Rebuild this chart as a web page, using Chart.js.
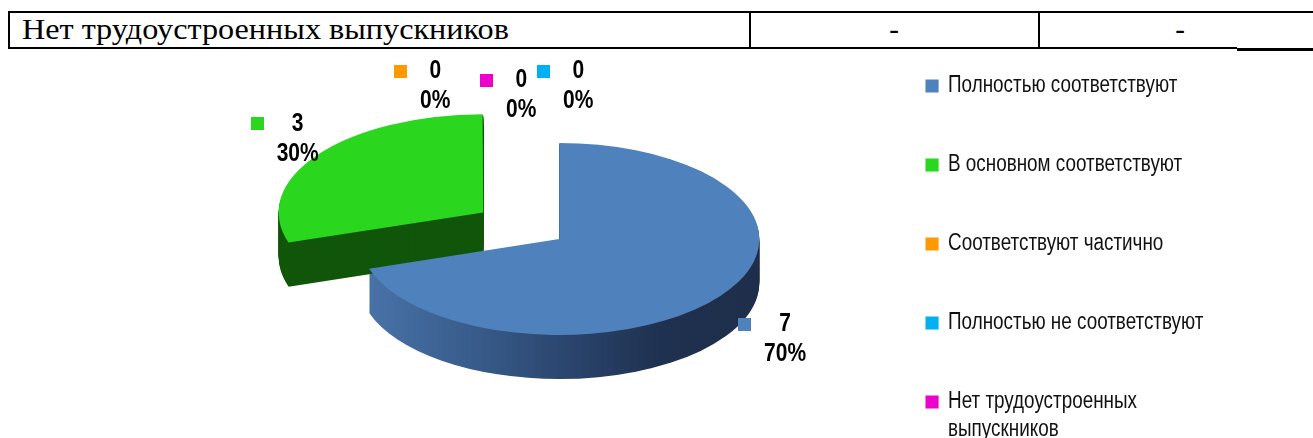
<!DOCTYPE html>
<html>
<head>
<meta charset="utf-8">
<script src="https://cdn.jsdelivr.net/npm/chart.js@4.4.0/dist/chart.umd.min.js"></script>
<style>
  html, body { margin: 0; padding: 0; background: #fff; width: 1313px; height: 438px; overflow: hidden; position: relative; }
  .ln { position: absolute; background: #000; }
  .cell { position: absolute; font-family: "Liberation Serif", "Times New Roman", serif; font-size: 29px; line-height: 29px; color: #000; white-space: nowrap; }
  #pie { position: absolute; left: 0; top: 0; }
</style>
</head>
<body>
<!-- table row above the chart -->
<div class="ln" style="left:8px;top:11px;width:1305px;height:2px"></div>
<div class="ln" style="left:8px;top:47px;width:1229px;height:2px"></div>
<div class="ln" style="left:1237px;top:48px;width:76px;height:3px"></div>
<div class="ln" style="left:8px;top:11px;width:2px;height:38px"></div>
<div class="ln" style="left:749px;top:11px;width:2px;height:38px"></div>
<div class="ln" style="left:1038px;top:11px;width:2px;height:38px"></div>
<div class="cell" style="left:22px;top:15px;transform:scaleX(1.11);transform-origin:0 0">Нет трудоустроенных выпускников</div>
<div class="cell" style="left:884px;top:15px;width:20px;text-align:center">-</div>
<div class="cell" style="left:1170px;top:15px;width:20px;text-align:center">-</div>

<canvas id="pie" width="1313" height="520"></canvas>

<script>
const categories = [
  'Полностью соответствуют',
  'В основном соответствуют',
  'Соответствуют частично',
  'Полностью не соответствуют',
  ['Нет трудоустроенных', 'выпускников']
];
const counts = [7, 3, 0, 0, 0];
const colors = ['#4f81bd', '#2bd61e', '#ff9900', '#00b0f0', '#ee00cc'];

const total = counts.reduce((a, b) => a + b, 0);
const percents = counts.map(v => Math.round(v / total * 100) + '%');

const sans = "'Liberation Sans', Arial, sans-serif";

// the original uses a narrow font, so legend text is squeezed horizontally
const narrowLegend = {
  id: 'narrowLegend',
  beforeDraw(chart, args, opts) {
    const ctx = chart.ctx;
    const left = chart.legend.left;
    ctx.save();
    ctx.translate(left, 0);
    ctx.scale(opts.sx, 1);
    ctx.translate(-left, 0);
  },
  beforeDatasetsDraw(chart) {
    chart.ctx.restore();
  }
};

// fake 3d: squash the pie vertically and stack darker copies under it
const pie3d = {
  id: 'pie3d',
  beforeDatasetsDraw(chart, args, opts) {
    const ctx = chart.ctx;
    const arcs = chart.getDatasetMeta(0).data;
    const cx = arcs[0].x, cy = arcs[0].y;
    ctx.save();
    ctx.translate(cx, cy);
    ctx.scale(1, opts.tilt);
    ctx.translate(-cx, -cy);
    arcs.forEach((arc, i) => {
      const g = arcGeom(arc);
      if (g.empty) return;
      let fill = opts.side[i];
      if (Array.isArray(fill)) {
        const grad = ctx.createLinearGradient(g.x - g.r, 0, g.x + g.r, 0);
        fill.forEach((c, k) => grad.addColorStop(k / (fill.length - 1), c));
        fill = grad;
      }
      ctx.fillStyle = fill;
      for (let k = opts.depth; k >= 1; k--) {
        const y = g.y + k / opts.tilt;
        ctx.beginPath();
        ctx.moveTo(g.x, y);
        ctx.arc(g.x, y, g.r, g.start, g.end);
        ctx.closePath();
        ctx.fill();
      }
    });
  },
  afterDatasetsDraw(chart) {
    chart.ctx.restore();
  }
};

// same geometry ArcElement.draw uses (offset / 4 shift, small radius fix)
function arcGeom(arc) {
  const p = arc.getProps(['x', 'y', 'startAngle', 'endAngle', 'outerRadius', 'circumference']);
  const off = (arc.options.offset || 0) / 4;
  const mid = (p.startAngle + p.endAngle) / 2;
  const fix = 1 - Math.sin(Math.min(Math.PI, p.circumference || 0));
  return {
    x: p.x + Math.cos(mid) * off,
    y: p.y + Math.sin(mid) * off,
    r: p.outerRadius + off * fix,
    start: p.startAngle,
    end: p.endAngle,
    mid: mid,
    empty: p.circumference === 0
  };
}

const pieLabels = {
  id: 'pieLabels',
  afterDatasetsDraw(chart, args, opts) {
    const ctx = chart.ctx;
    const arcs = chart.getDatasetMeta(0).data;
    const tilt = chart.options.plugins.pie3d.tilt;
    const cy = arcs[0].y;
    ctx.save();
    ctx.font = 'bold 25px ' + sans;
    ctx.textAlign = 'center';
    ctx.textBaseline = 'middle';
    arcs.forEach((arc, i) => {
      const g = arcGeom(arc);
      const ax = g.x + Math.cos(g.mid) * g.r + opts.nudge[i][0];
      const ay = cy + (g.y - cy + Math.sin(g.mid) * g.r) * tilt + opts.nudge[i][1];
      const lines = [String(counts[i]), percents[i]];
      const w = Math.max(...lines.map(t => ctx.measureText(t).width)) * opts.sx;
      ctx.fillStyle = colors[i];
      ctx.fillRect(Math.round(ax - w / 2 - 13 - 13), Math.round(ay - 6.5), 13, 13);
      ctx.fillStyle = '#000';
      lines.forEach((t, k) => {
        ctx.save();
        ctx.translate(ax, ay + k * 30);
        ctx.scale(opts.sx, 1);
        ctx.fillText(t, 0, 0);
        ctx.restore();
      });
    });
    ctx.restore();
  }
};

new Chart(document.getElementById('pie'), {
  type: 'pie',
  data: {
    labels: categories,
    datasets: [{
      data: counts,
      backgroundColor: colors,
      borderWidth: 0,
      offset: [0, 376, 0, 0, 0]
    }]
  },
  options: {
    responsive: false,
    animation: false,
    events: [],
    radius: 200,
    layout: { padding: { left: 239, right: 28.5, top: 18.5, bottom: 0 } },
    plugins: {
      legend: {
        position: 'right',
        align: 'start',
        labels: {
          boxWidth: 16,
          boxHeight: 13,
          padding: 56,
          color: '#111',
          font: { family: sans, size: 23, lineHeight: 1.217 }
        }
      },
      title: {
        display: true,
        position: 'bottom',
        fullSize: false,
        text: '',
        padding: { top: 0, bottom: 50.5 },
        font: { size: 10, lineHeight: 1 }
      },
      tooltip: { enabled: false },
      narrowLegend: { sx: 0.82 },
      pie3d: {
        tilt: 0.48,
        depth: 44,
        side: [['#4a74aa', '#3a5f8f', '#2c4770', '#1f3150', '#1e2e4a'], '#11560a', '#b36b00', '#0080b0', '#a0008a']
      },
      pieLabels: {
        sx: 0.84,
        nudge: [[64, 29], [-20, -31], [-124, -72], [19, -72], [-38, -63]]
      }
    }
  },
  plugins: [narrowLegend, pie3d, pieLabels]
});
</script>
</body>
</html>
